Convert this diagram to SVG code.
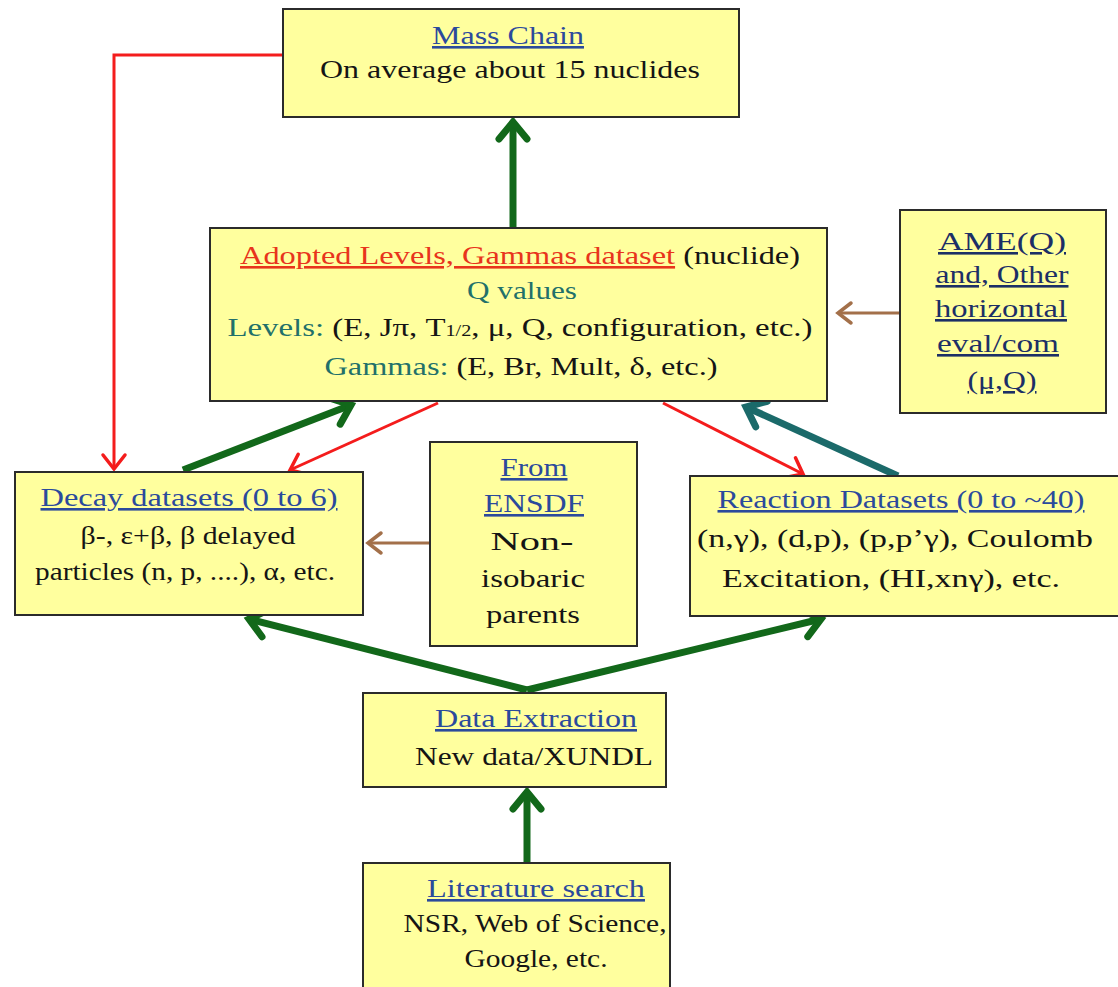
<svg xmlns="http://www.w3.org/2000/svg" width="1118" height="987" viewBox="0 0 1118 987">
<style>
.box{fill:#ffff9e;stroke:#2b2b2b;stroke-width:2}
text{font-family:"Liberation Serif","Times New Roman",serif;font-size:26px;fill:#151515;text-anchor:middle}
.hd{fill:#2b4a9c;text-decoration:underline}
.rd{fill:#e8341c;text-decoration:underline}
.tl{fill:#22706a}
.am{fill:#1c2f66;text-decoration:underline}
.sub{font-size:16px}
.g{stroke:#12681a;stroke-width:7;fill:none}
.r{stroke:#f41c1c;stroke-width:3;fill:none}
.t{stroke:#1b6a6a;stroke-width:7;fill:none}
.b{stroke:#a3704a;stroke-width:3;fill:none}
</style>
<defs>
<marker id="ag" markerUnits="userSpaceOnUse" viewBox="-30 -20 40 40" markerWidth="40" markerHeight="40" refX="0" refY="0" orient="auto">
<path d="M-17,-14 L0,0 L-17,14" fill="none" stroke="#12681a" stroke-width="7" stroke-linecap="round"/>
</marker>
<marker id="at" markerUnits="userSpaceOnUse" viewBox="-30 -20 40 40" markerWidth="40" markerHeight="40" refX="0" refY="0" orient="auto">
<path d="M-17,-14 L0,0 L-17,14" fill="none" stroke="#1b6a6a" stroke-width="7" stroke-linecap="round"/>
</marker>
<marker id="ar" markerUnits="userSpaceOnUse" viewBox="-30 -20 40 40" markerWidth="40" markerHeight="40" refX="0" refY="0" orient="auto">
<path d="M-14,-11 L0,0 L-14,11" fill="none" stroke="#f41c1c" stroke-width="3.5" stroke-linecap="round"/>
</marker>
<marker id="ab" markerUnits="userSpaceOnUse" viewBox="-30 -20 40 40" markerWidth="40" markerHeight="40" refX="0" refY="0" orient="auto">
<path d="M-13,-10 L0,0 L-13,10" fill="none" stroke="#a3704a" stroke-width="3.5" stroke-linecap="round"/>
</marker>
</defs>
<rect width="1118" height="987" fill="#ffffff"/>

<g id="connectors">
<path class="g" d="M513,227 L513,122" marker-end="url(#ag)"/>
<path class="r" d="M283,55 L114,55 L114,469" marker-end="url(#ar)"/>
<path class="g" d="M183,470 L351,405" marker-end="url(#ag)"/>
<path class="r" d="M438,403 L290,470" marker-end="url(#ar)"/>
<path class="r" d="M663,403 L803,474" marker-end="url(#ar)"/>
<path class="t" d="M898,476 L746,407" marker-end="url(#at)"/>
<path class="b" d="M900,313 L838,313" marker-end="url(#ab)"/>
<path class="b" d="M430,543 L368,543" marker-end="url(#ab)"/>
<path class="g" d="M527,690 L249,619" marker-end="url(#ag)"/>
<path class="g" d="M527,690 L821,619" marker-end="url(#ag)"/>
<path class="g" d="M527,862 L527,792" marker-end="url(#ag)"/>
</g>

<g id="mass-chain">
<rect class="box" x="283" y="9" width="456" height="108"/>
<text class="hd" x="508" y="44" textLength="152" lengthAdjust="spacingAndGlyphs">Mass Chain</text>
<text x="510" y="78" textLength="380" lengthAdjust="spacingAndGlyphs">On average about 15 nuclides</text>
</g>

<g id="adopted">
<rect class="box" x="210" y="228" width="617" height="173"/>
<text x="520" y="264" textLength="560" lengthAdjust="spacingAndGlyphs"><tspan class="rd">Adopted Levels, Gammas dataset</tspan> (nuclide)</text>
<text class="tl" x="522" y="299" textLength="110" lengthAdjust="spacingAndGlyphs">Q values</text>
<text x="520" y="336" textLength="585" lengthAdjust="spacingAndGlyphs"><tspan class="tl">Levels:</tspan> (E, Jπ, T<tspan class="sub">1/2</tspan>, μ, Q, configuration, etc.)</text>
<text x="521" y="375" textLength="393" lengthAdjust="spacingAndGlyphs"><tspan class="tl">Gammas:</tspan> (E, Br, Mult, δ, etc.)</text>
</g>

<g id="ame">
<rect class="box" x="900" y="210" width="206" height="203"/>
<text class="am" x="1002" y="250" textLength="128" lengthAdjust="spacingAndGlyphs">AME(Q)</text>
<text class="am" x="1002" y="283" textLength="133" lengthAdjust="spacingAndGlyphs">and, Other</text>
<text class="am" x="1001" y="317" textLength="132" lengthAdjust="spacingAndGlyphs">horizontal</text>
<text class="am" x="998" y="352" textLength="122" lengthAdjust="spacingAndGlyphs">eval/com</text>
<text class="am" x="1002" y="389" textLength="69" lengthAdjust="spacingAndGlyphs">(μ,Q)</text>
</g>

<g id="decay">
<rect class="box" x="15" y="472" width="348" height="143"/>
<text class="hd" x="189" y="506" textLength="297" lengthAdjust="spacingAndGlyphs">Decay datasets (0 to 6)</text>
<text x="188" y="544" textLength="215" lengthAdjust="spacingAndGlyphs">β-, ε+β, β delayed</text>
<text x="185" y="580" textLength="300" lengthAdjust="spacingAndGlyphs">particles (n, p, ....), α, etc.</text>
</g>

<g id="ensdf">
<rect class="box" x="430" y="442" width="207" height="204"/>
<text class="hd" x="534" y="476" textLength="67" lengthAdjust="spacingAndGlyphs">From</text>
<text class="hd" x="534" y="512" textLength="100" lengthAdjust="spacingAndGlyphs">ENSDF</text>
<text x="532" y="550" textLength="83" lengthAdjust="spacingAndGlyphs">Non-</text>
<text x="533" y="587" textLength="104" lengthAdjust="spacingAndGlyphs">isobaric</text>
<text x="533" y="623" textLength="94" lengthAdjust="spacingAndGlyphs">parents</text>
</g>

<g id="reaction">
<rect class="box" x="690" y="476" width="430" height="140"/>
<text class="hd" x="901" y="508" textLength="367" lengthAdjust="spacingAndGlyphs">Reaction Datasets (0 to ~40)</text>
<text x="895" y="547" textLength="396" lengthAdjust="spacingAndGlyphs">(n,γ), (d,p), (p,p’γ), Coulomb</text>
<text x="891" y="587" textLength="338" lengthAdjust="spacingAndGlyphs">Excitation, (HI,xnγ), etc.</text>
</g>

<g id="data-extraction">
<rect class="box" x="363" y="693" width="303" height="94"/>
<text class="hd" x="536" y="727" textLength="202" lengthAdjust="spacingAndGlyphs">Data Extraction</text>
<text x="534" y="765" textLength="238" lengthAdjust="spacingAndGlyphs">New data/XUNDL</text>
</g>

<g id="literature">
<rect class="box" x="363" y="863" width="307" height="130"/>
<text class="hd" x="536" y="897" textLength="218" lengthAdjust="spacingAndGlyphs">Literature search</text>
<text x="535" y="932" textLength="263" lengthAdjust="spacingAndGlyphs">NSR, Web of Science,</text>
<text x="536" y="967" textLength="143" lengthAdjust="spacingAndGlyphs">Google, etc.</text>
</g>
</svg>
